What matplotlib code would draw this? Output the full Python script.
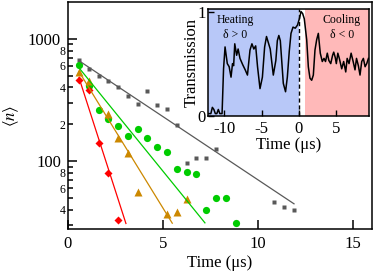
import numpy as np
import matplotlib
matplotlib.use("Agg")
import matplotlib.pyplot as plt
from matplotlib.ticker import FixedLocator, FuncFormatter

plt.rcParams['font.family'] = ['Liberation Serif', 'DejaVu Serif']
plt.rcParams['mathtext.fontset'] = 'stix'

# main panel data: <n> vs time (us)
t_gray = [0.58, 1.1, 1.63, 2.13, 2.65, 3.16, 3.67, 4.18, 4.7, 5.21, 5.72,
          6.25, 6.74, 7.25, 7.77, 8.3, 10.86, 11.37, 11.88]
n_gray = [664, 568, 497, 453, 402, 337, 293, 373, 289, 267, 196,
          97, 106, 106, 125, 50, 46.4, 41.7, 39.4]
t_green = [0.58, 1.1, 1.63, 2.13, 2.65, 3.16, 3.67, 4.18, 4.7, 5.21, 5.72,
           6.25, 6.74, 7.25, 7.77, 8.3, 8.82]
n_green = [604, 412, 262, 221, 194, 160, 183, 155, 131, 119, 86,
           81, 78, 40, 49.4, 49.4, 30.8]
t_orange = [0.58, 1.1, 2.13, 2.65, 3.16, 3.67, 5.21, 5.72, 6.25]
n_orange = [530, 455, 242, 153, 116, 56, 36.8, 38.2, 48.8]
t_red = [0.58, 1.1, 1.63, 2.13, 2.65]
n_red = [461, 382, 141, 79, 32.8]

# exponential fits n0*exp(-t/tau), drawn from t_start to t_end
fit_n0 = [758, 746, 753, 912]
fit_tau = [4.2, 2.27, 1.72, 0.9]
fit_t_start = [0.58, 0.58, 0.58, 0.58]
fit_t_end = [11.9, 7.21, 5.49, 3.05]

# inset: transmission trace
trace_t = [-12.14, -11.8, -11.6, -11.4, -11.2, -11.0, -10.8, -10.6, -10.3,
           -10.1, -9.9, -9.6, -9.35, -9.1, -8.9, -8.75, -8.6, -8.35, -8.15,
           -7.9, -7.54, -7.2, -6.9, -6.56, -6.3, -6.05, -5.8, -5.55, -5.22,
           -4.9, -4.6, -4.35, -4.1, -3.85, -3.44, -3.1, -2.9, -2.7, -2.5,
           -2.1, -1.8, -1.56, -1.3, -1.07, -0.8, -0.5, -0.2, 0.05, 0.27,
           0.49, 0.71, 1.03, 1.25, 1.47, 1.7, 1.92, 2.14, 2.37, 2.59, 2.85,
           3.12, 3.35, 3.55, 3.79, 4.0, 4.25, 4.5, 4.65, 4.85, 5.0, 5.2,
           5.4, 5.72, 5.98, 6.26, 6.45, 6.7, 6.98, 7.25, 7.5, 7.7, 7.95,
           8.17, 8.4, 8.62, 8.85, 9.07, 9.3]
trace_T = [0.02, 0.02, 0.08, 0.06, 0.02, 0.02, 0.06, 0.02, 0.02,
           0.45, 0.66, 0.50, 0.47, 0.37, 0.50, 0.48, 0.69, 0.58, 0.64,
           0.55, 0.49, 0.44, 0.39, 0.63, 0.69, 0.64, 0.67, 0.47, 0.26,
           0.37, 0.66, 0.76, 0.70, 0.64, 0.39, 0.53, 0.72, 0.77, 0.72,
           0.31, 0.23, 0.37, 0.62, 0.79, 0.85, 0.84, 0.87, 0.93, 1.0,
           0.98, 0.93, 0.73, 0.47, 0.36, 0.34, 0.39, 0.63, 0.73, 0.79, 0.60,
           0.52, 0.55, 0.52, 0.60, 0.53, 0.50, 0.58, 0.61, 0.56, 0.50, 0.60,
           0.55, 0.45, 0.52, 0.42, 0.55, 0.50, 0.60, 0.52, 0.44, 0.55, 0.48,
           0.39, 0.52, 0.55, 0.47, 0.50, 0.55]

GRAY = '#595959'
GREEN = '#00cc00'
ORANGE = '#cc8800'
RED = '#ff0000'

fig = plt.figure(figsize=(3.73, 2.78), dpi=100)
ax = fig.add_axes([0.1823, 0.176, 0.8147, 0.817])

ax.plot(t_gray, n_gray, 's', color=GRAY, ms=3.3, mec='none')
ax.plot(t_green, n_green, 'o', color=GREEN, ms=5.2, mec='none')
ax.plot(t_orange, n_orange, '^', color=ORANGE, ms=5.5, mec='none')
ax.plot(t_red, n_red, 'D', color=RED, ms=3.6, mec='none')

for n0, tau, ts, te, c in zip(fit_n0, fit_tau, fit_t_start, fit_t_end,
                              [GRAY, GREEN, ORANGE, RED]):
    tt = np.linspace(ts, te, 50)
    ax.plot(tt, n0 * np.exp(-tt / tau), '-', color=c, lw=0.9)

ax.set_yscale('log')
ax.set_xlim(0, 16)
ax.set_ylim(27.7, 2000)
ax.set_xticks([0, 5, 10, 15])
ax.yaxis.set_major_locator(FixedLocator([100, 1000]))
ax.yaxis.set_major_formatter(FuncFormatter(lambda v, p: '%d' % round(v)))
minor = [m * 10 ** k for k in (1, 2) for m in range(2, 10)]
ax.yaxis.set_minor_locator(FixedLocator(minor))


def minor_label(v, pos):
    lead = int(round(v / 10 ** np.floor(np.log10(v))))
    return str(lead) if lead in (2, 4, 6, 8) else ''


ax.yaxis.set_minor_formatter(FuncFormatter(minor_label))
ax.tick_params(which='both', direction='in', width=1.1)
ax.tick_params(which='major', length=6.5, labelsize=12, pad=5)
ax.tick_params(axis='y', which='minor', length=3.5, labelsize=8.5, pad=2)
ax.tick_params(axis='x', which='minor', length=0)
for s in ax.spines.values():
    s.set_linewidth(1.1)
ax.set_xlabel('Time (\u03bcs)', fontsize=12, labelpad=2)
ax.set_ylabel(r'$\langle n\rangle$', fontsize=12, labelpad=5)

# inset
ins = fig.add_axes([0.5585, 0.5838, 0.4315, 0.3827])
ins.set_zorder(5)
ins.axvspan(-12.14, 0, color='#b8c8f8', lw=0)
ins.axvspan(0.8, 9.41, color='#ffb9b9', lw=0)
ins.axvline(0, color='black', ls=(0, (3, 2)), lw=1.0)
ins.plot(trace_t, trace_T, color='black', lw=1.1)
ins.set_xlim(-12.14, 9.41)
ins.set_ylim(0, 1.021)
ins.set_xticks([-10, -5, 0, 5])
ins.set_yticks([0, 1])
ins.set_xticklabels(['-10', '-5', '0', '5'])
ins.tick_params(direction='in', length=4, width=1.0, labelsize=12, pad=4)
ins.tick_params(axis='y', pad=2)
for s in ins.spines.values():
    s.set_linewidth(1.1)
ins.set_xlabel('Time (\u03bcs)', fontsize=12, labelpad=0)
ins.set_ylabel('Transmission', fontsize=12, labelpad=-2)
ins.text(-8.57, 0.918, 'Heating', fontsize=8.5, ha='center', va='center')
ins.text(-8.57, 0.775, '\u03b4 > 0', fontsize=8.5, ha='center', va='center')
ins.text(5.76, 0.918, 'Cooling', fontsize=8.5, ha='center', va='center')
ins.text(5.76, 0.775, '\u03b4 < 0', fontsize=8.5, ha='center', va='center')

fig.savefig('out.png', dpi=100)
